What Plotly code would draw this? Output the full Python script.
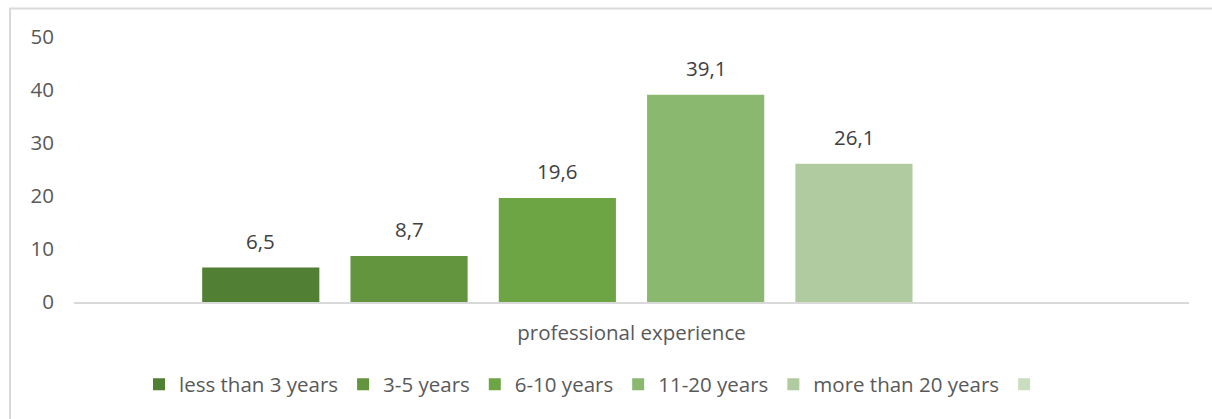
import plotly.graph_objects as go

# Share of respondents by professional experience (%)
category = ["professional experience"]
series_names = ["less than 3 years", "3-5 years", "6-10 years", "11-20 years", "more than 20 years", ""]
series_values = [6.5, 8.7, 19.6, 39.1, 26.1, None]
series_colors = ["#517F33", "#62953D", "#6DA544", "#8AB86F", "#AFCB9F", "#C9DDBF"]
y_ticks = [0, 10, 20, 30, 40, 50]

FONT = "Open Sans"
FS = 20.5
LABEL_GREY = "#595959"

W, H = 1212, 419
ml, mr, mt, mb = 74, 23, 37, 116.5
pw, ph = W - ml - mr, H - mt - mb
BARGAP = 0.202
GROUPGAP = 0.21
n_series = len(series_names)


def px_x(x):
    return (x - ml) / pw


def px_y(y):
    return (H - mb - y) / ph


fig = go.Figure()
for name, val, color in zip(series_names, series_values, series_colors):
    fig.add_trace(go.Bar(
        x=category,
        y=[val],
        name=name,
        marker=dict(color=color, line=dict(width=0)),
        hoverinfo="skip",
    ))

# value labels above each bar, centred on the bar's slot within the group
slot_px = pw * (1 - BARGAP) / n_series
annotations = []
for i, val in enumerate(series_values):
    if val is None:
        continue
    annotations.append(dict(
        x=category[0], y=val, xref="x", yref="y",
        text=f"{val:.1f}".replace(".", ","),
        showarrow=False,
        xanchor="center", yanchor="middle",
        xshift=(i - (n_series - 1) / 2) * slot_px,
        yshift=27,
        font=dict(family=FONT, size=FS, color="#404040"),
    ))

fig.update_layout(
    width=W, height=H,
    margin=dict(l=ml, r=mr, t=mt, b=mb, pad=0),
    paper_bgcolor="white", plot_bgcolor="white",
    separators=",.",
    barmode="group",
    bargap=BARGAP,
    bargroupgap=GROUPGAP,
    font=dict(family=FONT, size=FS, color=LABEL_GREY),
    showlegend=True,
    legend=dict(
        orientation="h",
        x=px_x(139), xanchor="left",
        y=px_y(385), yanchor="middle",
        font=dict(family=FONT, size=FS, color=LABEL_GREY),
        itemclick=False, itemdoubleclick=False,
        bgcolor="rgba(0,0,0,0)",
    ),
    xaxis=dict(
        showline=True, linecolor="#D9D9D9", linewidth=1.5,
        showgrid=False, ticks="", zeroline=False,
        tickfont=dict(family=FONT, size=FS, color=LABEL_GREY),
        ticklabelstandoff=12,
    ),
    yaxis=dict(
        range=[0, 50], tickvals=y_ticks,
        showline=False, showgrid=False, zeroline=False, ticks="",
        tickfont=dict(family=FONT, size=FS, color=LABEL_GREY),
        ticklabelstandoff=19,
    ),
    annotations=annotations,
    shapes=[dict(
        type="rect", xref="paper", yref="paper",
        x0=px_x(10), x1=px_x(1216), y0=px_y(424), y1=px_y(8.5),
        line=dict(color="#D9D9D9", width=2), fillcolor="rgba(0,0,0,0)",
        layer="below",
    )],
)

fig.write_html("out.html")
